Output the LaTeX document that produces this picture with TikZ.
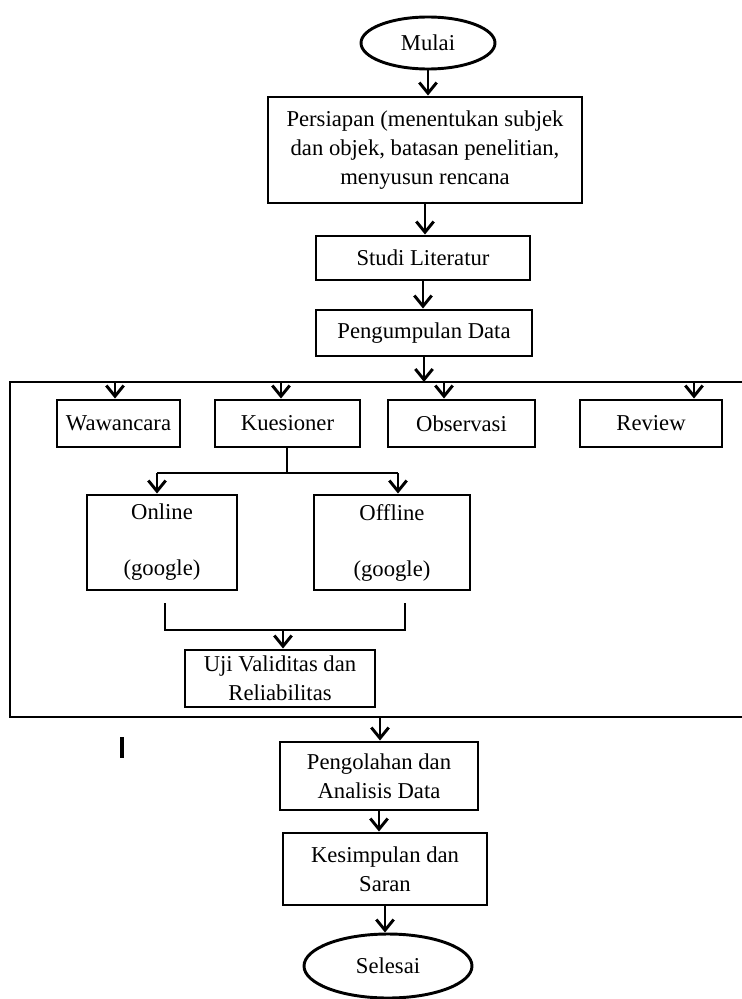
\documentclass[tikz,border=0pt]{standalone}
\usepackage{fontspec}
\setmainfont{Liberation Serif}
\usetikzlibrary{arrows.meta,shapes.geometric}
\begin{document}
\begin{tikzpicture}[x=0.75pt,y=-0.75pt,
 box/.style={draw,line width=2.2pt,rectangle,align=center,inner sep=0pt,font=\fontsize{17}{22}\selectfont},
 oval/.style={draw,line width=2.2pt,ellipse,inner sep=0pt,font=\fontsize{17}{22}\selectfont},
 arr/.style={line width=2.2pt,-{Straight Barb[length=8pt,width=13pt]}},
 ln/.style={line width=2.2pt}]
\useasboundingbox (0,0) rectangle (742,999);
% nodes
\node[oval,minimum width=100.5pt,minimum height=39pt] (mulai) at (428,43) {Mulai};
\node[box,minimum width=235.5pt,minimum height=79.5pt] (pers) at (425,150) {Persiapan (menentukan subjek\\dan objek, batasan penelitian,\\menyusun rencana};
\node[box,minimum width=160.5pt,minimum height=33pt] (studi) at (423,258) {Studi Literatur};
\node[box,minimum width=162pt,minimum height=34.5pt] (kumpul) at (424,333) {Pengumpulan Data};
\node[box,minimum width=92.25pt,minimum height=35.25pt] (waw) at (118.5,423.5) {Wawancara};
\node[box,minimum width=108.75pt,minimum height=35.25pt] (kues) at (287.5,423.5) {Kuesioner};
\node[box,minimum width=110.25pt,minimum height=35.25pt] (obs) at (461.5,423.5) {Observasi};
\node[box,minimum width=106.5pt,minimum height=35.25pt] (rev) at (651,423.5) {Review};
\node[box,minimum width=112.5pt,minimum height=71.25pt] (online) at (162,542.5) {Online\\[20pt](google)};
\node[box,minimum width=117pt,minimum height=71.25pt] (offline) at (392,542.5) {Offline\\[20pt](google)};
\node[box,minimum width=142.5pt,minimum height=42.75pt] (uji) at (280,678.5) {Uji Validitas dan\\Reliabilitas};
\node[box,minimum width=148.5pt,minimum height=51pt] (olah) at (379,776) {Pengolahan dan\\Analisis Data};
\node[box,minimum width=153pt,minimum height=54pt] (simpul) at (385,869) {Kesimpulan dan\\Saran};
\node[oval,minimum width=126pt,minimum height=48pt] (selesai) at (388,966) {Selesai};
% frame
\coordinate (ftl) at (10,382);
\coordinate (ftr) at (742,382);
\coordinate (fbl) at (10,717);
\coordinate (fbr) at (742,717);
\draw[ln] (ftr) -- (ftl) -- (fbl) -- (fbr);
% main flow
\draw[arr] (mulai.south) -- (mulai.south |- pers.north);
\draw[arr] (pers.south) -- (pers.south |- studi.north);
\draw[arr] (studi.south) -- (studi.south |- kumpul.north);
\draw[arr] (kumpul.south) -- (kumpul.south |- ftl);
% branches
\coordinate (t1) at (115,382);
\coordinate (t2) at (281,382);
\coordinate (t3) at (444,382);
\coordinate (t4) at (694,382);
\draw[arr] (t1) -- (t1 |- waw.north);
\draw[arr] (t2) -- (t2 |- kues.north);
\draw[arr] (t3) -- (t3 |- obs.north);
\draw[arr] (t4) -- (t4 |- rev.north);
% kuesioner split
\coordinate (ks) at (287,473);
\coordinate (kl) at (157,473);
\coordinate (kr) at (398,473);
\draw[ln] (kues.south -| ks) -- (ks);
\draw[ln] (kl) -- (kr);
\draw[arr] (kl) -- (kl |- online.north);
\draw[arr] (kr) -- (kr |- offline.north);
% merge
\coordinate (ma) at (165,603);
\coordinate (mb) at (165,630);
\coordinate (mc) at (405,630);
\coordinate (md) at (405,603);
\coordinate (mm) at (283,630);
\draw[ln] (ma) -- (mb) -- (mc) -- (md);
\draw[arr] (mm) -- (mm |- uji.north);
% lower flow
\coordinate (fb) at (380,717);
\draw[arr] (fb) -- (fb |- olah.north);
\draw[arr] (olah.south) -- (olah.south |- simpul.north);
\draw[arr] (simpul.south) -- (simpul.south |- selesai.north);
% stray mark
\coordinate (s1) at (122,737);
\coordinate (s2) at (122,758);
\draw[line width=3pt] (s1) -- (s2);
\end{tikzpicture}
\end{document}
